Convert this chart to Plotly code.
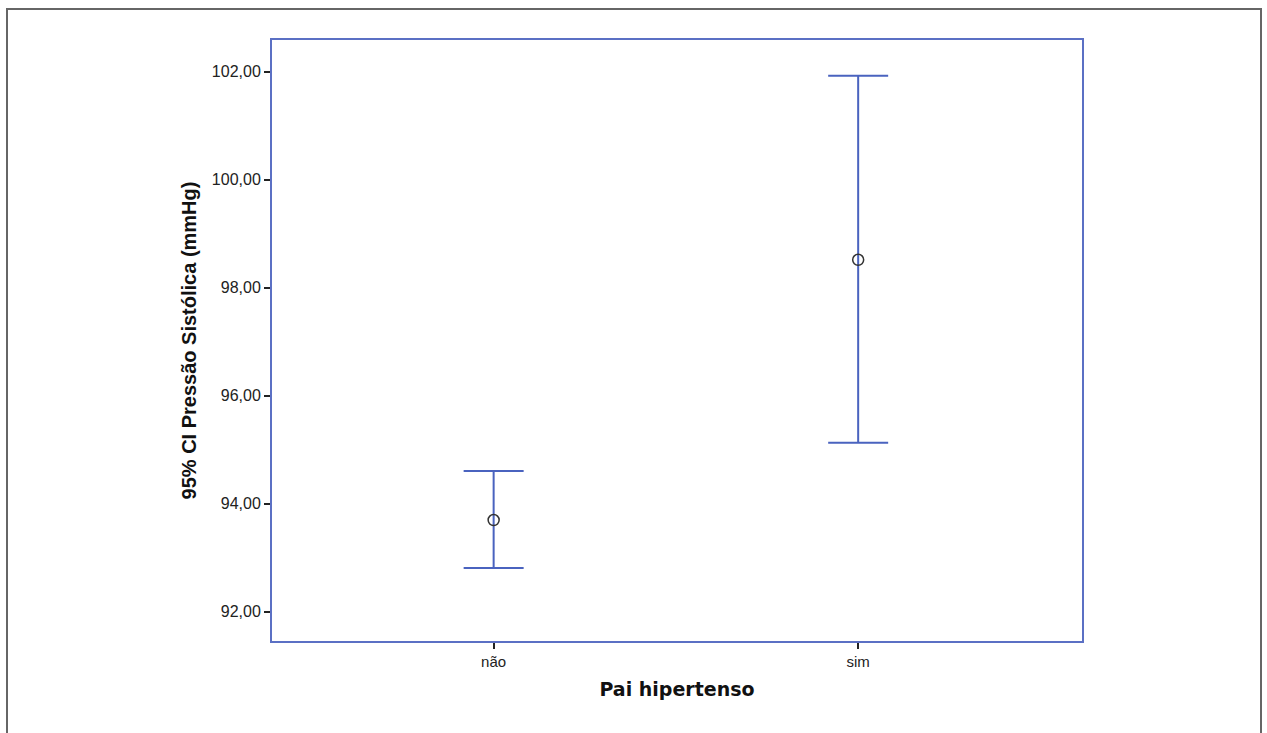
import plotly.graph_objects as go

# Group means and 95% confidence limits of systolic pressure by paternal hypertension
categories = ["não", "sim"]
means = [93.70, 98.52]
ci_upper = [94.61, 101.93]
ci_lower = [92.81, 95.13]

tick_vals = [92, 94, 96, 98, 100, 102]

err_plus = [u - m for u, m in zip(ci_upper, means)]
err_minus = [m - l for m, l in zip(means, ci_lower)]

blue = "#4a63bf"
frame_blue = "#5b70c4"

fig = go.Figure()
fig.add_trace(go.Scatter(
    x=categories,
    y=means,
    mode="markers",
    marker=dict(symbol="circle-open", size=11, color="#333333", line=dict(width=1.5, color="#333333")),
    error_y=dict(type="data", symmetric=False, array=err_plus, arrayminus=err_minus,
                 color=blue, thickness=2, width=30),
    showlegend=False,
    hoverinfo="skip",
))

L, R, T, B = 272, 185, 40, 92
W, H = 1267, 733
pw, ph = W - L - R, H - T - B


def px_to_paper_x(px):
    return (px - L) / pw


def px_to_paper_y(py):
    return (H - B - py) / ph


fig.update_layout(
    width=W, height=H,
    margin=dict(l=L, r=R, t=T, b=B),
    paper_bgcolor="white",
    plot_bgcolor="white",
    separators=",.",
    font=dict(family="Liberation Sans, Arial, sans-serif", color="#222222", size=16),
    shapes=[dict(
        type="rect", xref="paper", yref="paper",
        x0=px_to_paper_x(7), x1=px_to_paper_x(1261),
        y0=px_to_paper_y(760), y1=px_to_paper_y(9),
        line=dict(color="#666666", width=2), fillcolor="rgba(0,0,0,0)", layer="below",
    )],
)

fig.update_xaxes(
    type="category",
    range=[-0.608, 1.614],
    showgrid=False, zeroline=False,
    showline=True, mirror=True, linecolor=frame_blue, linewidth=2,
    ticks="outside", ticklen=6, tickwidth=2, tickcolor="#222222",
    tickfont=dict(size=15, color="#222222"),
    title=dict(text="<b>Pai hipertenso</b>", font=dict(family="DejaVu Sans, sans-serif", size=19, color="#111111"), standoff=14),
)
fig.update_yaxes(
    range=[91.46, 102.59],
    tickvals=tick_vals,
    tickformat=".2f",
    showgrid=False, zeroline=False,
    showline=True, mirror=True, linecolor=frame_blue, linewidth=2,
    ticks="outside", ticklen=6, tickwidth=2, tickcolor="#222222",
    tickfont=dict(size=16, color="#222222"),
    title=dict(text="<b>95% CI Pressão Sistólica (mmHg)</b>", font=dict(family="Liberation Sans, Arial, sans-serif", size=20, color="#111111"), standoff=10),
)

fig.write_html("out.html")
